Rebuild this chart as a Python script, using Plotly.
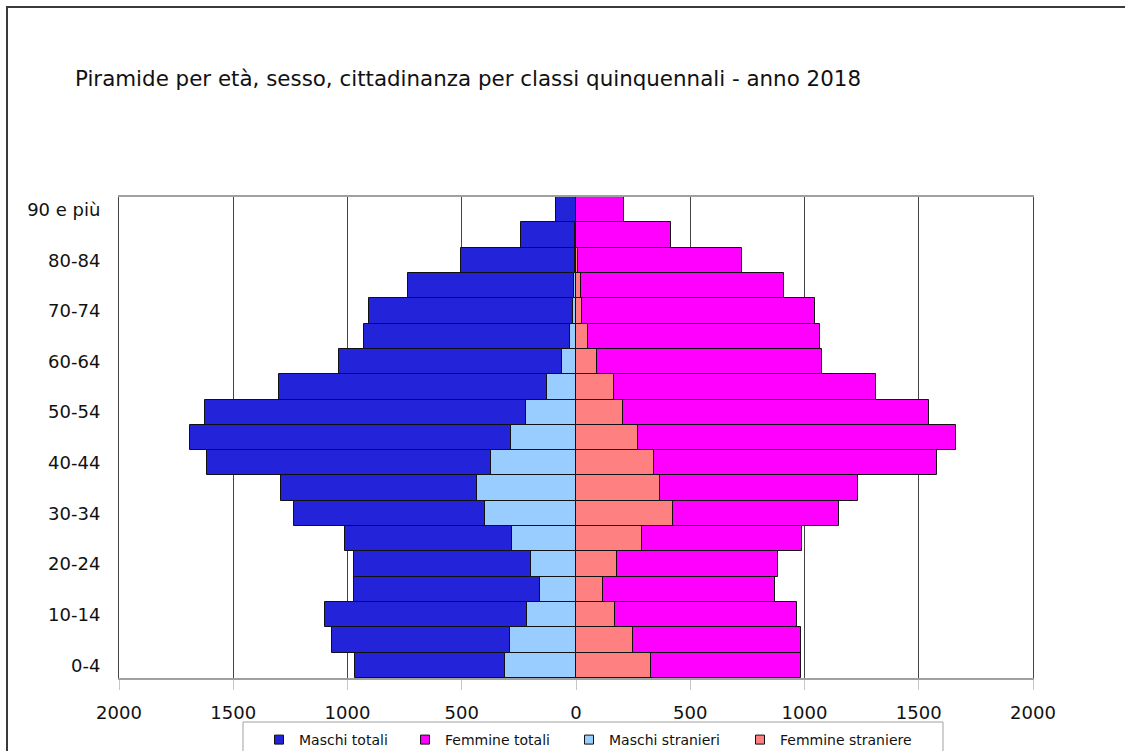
import plotly.graph_objects as go

# Age classes (bottom to top)
CLASSI = ["0-4", "5-9", "10-14", "15-19", "20-24", "25-29", "30-34", "35-39",
          "40-44", "45-49", "50-54", "55-59", "60-64", "65-69", "70-74",
          "75-79", "80-84", "85-89", "90 e più"]

MASCHI_TOTALI = [967, 1067, 1100, 971, 970, 1012, 1235, 1289, 1616, 1689,
                 1622, 1301, 1037, 930, 908, 735, 505, 241, 86]
FEMMINE_TOTALI = [983, 986, 965, 869, 882, 987, 1149, 1236, 1581, 1664,
                  1547, 1314, 1078, 1066, 1045, 910, 728, 416, 208]
MASCHI_STRANIERI = [312, 290, 215, 158, 198, 280, 397, 435, 370, 283,
                    220, 125, 61, 26, 13, 10, 5, 3, 1]
FEMMINE_STRANIERE = [327, 248, 172, 120, 181, 287, 426, 369, 340, 270,
                     204, 165, 92, 54, 25, 20, 9, 2, 1]

TICK_VALS = [-2000, -1500, -1000, -500, 0, 500, 1000, 1500, 2000]
TICK_TEXT = [str(abs(v)) for v in TICK_VALS]

COLORS = {
    "maschi_tot": "#2323D9",
    "femmine_tot": "#FF00FF",
    "maschi_str": "#99CCFF",
    "femmine_str": "#FF8080",
}

FONT = "DejaVu Sans, Verdana, sans-serif"
W, H = 1125, 751
# plot area in pixels
PL, PR, PT, PB = 119, 1033, 197, 678


def px_x(x):
    return (x - PL) / (PR - PL)


def px_y(y):
    return (PB - y) / (PB - PT)


fig = go.Figure()

series = [
    ("Maschi totali", [-v for v in MASCHI_TOTALI], MASCHI_TOTALI, COLORS["maschi_tot"], 101),
    ("Femmine totali", FEMMINE_TOTALI, FEMMINE_TOTALI, COLORS["femmine_tot"], 119),
    ("Maschi stranieri", [-v for v in MASCHI_STRANIERI], MASCHI_STRANIERI, COLORS["maschi_str"], 126),
    ("Femmine straniere", FEMMINE_STRANIERE, FEMMINE_STRANIERE, COLORS["femmine_str"], 150),
]

for name, xs, raw, color, lw in series:
    fig.add_trace(go.Bar(
        x=xs,
        y=CLASSI,
        orientation="h",
        name=name,
        legendgroup=name,
        showlegend=False,
        customdata=raw,
        hovertemplate="%{y}: %{customdata}<extra>" + name + "</extra>",
        marker=dict(color=color, line=dict(color="#111111", width=1)),
    ))
    # small square legend key, like the original
    fig.add_trace(go.Scatter(
        x=[None], y=[None],
        mode="markers",
        name=name,
        legendgroup=name,
        legendwidth=lw,
        marker=dict(symbol="square", size=9, color=color,
                    line=dict(color="#111111", width=1)),
        hoverinfo="skip",
    ))

fig.update_layout(
    width=W,
    height=H,
    barmode="overlay",
    bargap=0,
    plot_bgcolor="white",
    paper_bgcolor="white",
    font=dict(family=FONT, color="#111111", size=18),
    margin=dict(l=PL, r=W - PR, t=PT, b=H - PB, autoexpand=False),
    title=dict(
        text="Piramide per età, sesso, cittadinanza per classi quinquennali - anno 2018",
        x=75 / W, xref="container", xanchor="left",
        y=1 - 79 / H, yref="container", yanchor="middle",
        font=dict(family=FONT, size=21.4, color="#111111"),
    ),
    xaxis=dict(
        range=[-2000, 2000],
        tickvals=TICK_VALS,
        ticktext=TICK_TEXT,
        showgrid=True,
        gridcolor="#444444",
        gridwidth=1,
        zeroline=False,
        showline=True,
        linecolor="#A0A0A0",
        linewidth=2,
        mirror=True,
        ticks="outside",
        ticklen=10,
        tickcolor="#C8C8C8",
        ticklabelstandoff=7,
        tickfont=dict(size=18),
        automargin=False,
        fixedrange=True,
    ),
    yaxis=dict(
        categoryorder="array",
        categoryarray=CLASSI,
        tickvals=CLASSI[::2],
        showgrid=False,
        showline=True,
        linecolor="#444444",
        linewidth=1,
        mirror=True,
        ticks="",
        ticklabelstandoff=14,
        tickfont=dict(size=18),
        automargin=False,
        fixedrange=True,
    ),
    legend=dict(
        orientation="h",
        x=259 / W, xref="container", xanchor="left",
        y=1 - 724 / H, yref="container", yanchor="top",
        borderwidth=0,
        bgcolor="rgba(0,0,0,0)",
        font=dict(family=FONT, size=14, color="#111111"),
        traceorder="normal",
        itemsizing="trace",
    ),
)

# Outer frame of the chart area
fig.add_shape(
    type="rect", xref="paper", yref="paper",
    x0=px_x(7), x1=px_x(1140),
    y0=px_y(790), y1=px_y(7),
    line=dict(color="#3A3A3A", width=2),
    fillcolor="rgba(0,0,0,0)",
    layer="below",
)

# Legend box
fig.add_shape(
    type="rect", xref="paper", yref="paper",
    x0=px_x(243), x1=px_x(943),
    y0=px_y(770), y1=px_y(722),
    line=dict(color="#A0A0A0", width=1),
    fillcolor="white",
    layer="below",
)

fig.write_html(
    "out.html",
    config={"displayModeBar": False},
    post_script="document.body.style.margin = '0px';",
)
